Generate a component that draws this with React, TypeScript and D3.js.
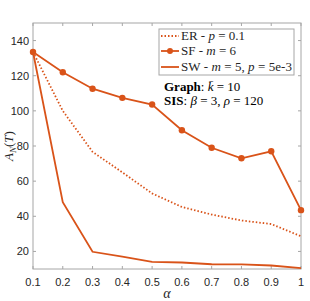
import React from 'react';
import * as d3 from 'd3';

const alphas = [0.1, 0.2, 0.3, 0.4, 0.5, 0.6, 0.7, 0.8, 0.9, 1.0];
const erValues = [133.5, 100, 76.7, 65, 53, 45.3, 41, 37.6, 35.6, 28.6];
const sfValues = [133.5, 122, 112.6, 107.4, 103.6, 89, 79, 73, 77, 43.5];
const swValues = [133.5, 48, 19.8, 17, 14, 13.7, 12.7, 12.6, 12, 10.5];
const xTicks = [0.1, 0.2, 0.3, 0.4, 0.5, 0.6, 0.7, 0.8, 0.9, 1];
const yTicks = [20, 40, 60, 80, 100, 120, 140];

const ORANGE = '#D95319';
const AXIS = '#a6a6a6';
const TEXT = '#262626';
const SERIF = '"Liberation Serif", "DejaVu Serif", serif';
const SANS = '"Liberation Sans", Arial, sans-serif';

const W = 310;
const H = 301;
const M = { left: 33, right: 9, top: 23, bottom: 32 };

export default function App() {
  const x = d3.scaleLinear().domain([0.1, 1]).range([M.left, W - M.right]);
  const y = d3.scaleLinear().domain([10, 150]).range([H - M.bottom, M.top]);
  const line = d3
    .line<number>()
    .x((_, i) => x(alphas[i]))
    .y((d) => y(d));
  const x0 = M.left;
  const x1 = W - M.right;
  const y0 = H - M.bottom;
  const y1 = M.top;
  const tk = 3;

  return (
    <svg width={W} height={H} style={{ position: 'absolute', left: 0, top: 0, background: '#fff' }}>
      {/* box */}
      <rect x={x0} y={y1} width={x1 - x0} height={y0 - y1} fill="none" stroke={AXIS} strokeWidth={1} />
      {xTicks.map((t) => (
        <g key={'x' + t}>
          <line x1={x(t)} x2={x(t)} y1={y0} y2={y0 - tk} stroke={AXIS} />
          <line x1={x(t)} x2={x(t)} y1={y1} y2={y1 + tk} stroke={AXIS} />
          <text x={x(t)} y={y0 + 17} textAnchor="middle" fontFamily={SANS} fontSize={11} fill={TEXT}>
            {String(t)}
          </text>
        </g>
      ))}
      {yTicks.map((t) => (
        <g key={'y' + t}>
          <line x1={x0} x2={x0 + tk} y1={y(t)} y2={y(t)} stroke={AXIS} />
          <line x1={x1} x2={x1 - tk} y1={y(t)} y2={y(t)} stroke={AXIS} />
          <text x={x0 - 4} y={y(t) + 4} textAnchor="end" fontFamily={SANS} fontSize={11} fill={TEXT}>
            {t}
          </text>
        </g>
      ))}

      {/* series */}
      <path d={line(erValues) ?? ''} fill="none" stroke={ORANGE} strokeWidth={1.8} strokeDasharray="1.5 2" />
      <path d={line(swValues) ?? ''} fill="none" stroke={ORANGE} strokeWidth={1.8} />
      <path d={line(sfValues) ?? ''} fill="none" stroke={ORANGE} strokeWidth={1.8} />
      {sfValues.map((v, i) => (
        <circle key={i} cx={x(alphas[i])} cy={y(v)} r={3.2} fill={ORANGE} />
      ))}

      {/* legend */}
      <rect x={159} y={29} width={135} height={46} fill="#fff" stroke={AXIS} />
      <g fontFamily={SERIF} fontSize={13} fill={TEXT}>
        <line x1={161} x2={179} y1={36} y2={36} stroke={ORANGE} strokeWidth={1.8} strokeDasharray="1.5 2" />
        <text x={181} y={40}>
          ER - <tspan fontStyle="italic">p</tspan> = 0.1
        </text>
        <line x1={161} x2={179} y1={51} y2={51} stroke={ORANGE} strokeWidth={1.8} />
        <circle cx={170} cy={51} r={3} fill={ORANGE} />
        <text x={181} y={55}>
          SF - <tspan fontStyle="italic">m</tspan> = 6
        </text>
        <line x1={161} x2={179} y1={67} y2={67} stroke={ORANGE} strokeWidth={1.8} />
        <text x={181} y={71} textLength={111}>
          SW - <tspan fontStyle="italic">m</tspan> = 5, <tspan fontStyle="italic">p</tspan> = 5e-3
        </text>
      </g>

      {/* annotation */}
      <g fontFamily={SERIF} fontSize={13} fill="#000">
        <text x={164} y={91}>
          <tspan fontWeight="bold">Graph</tspan>: <tspan fontStyle="italic">k̄</tspan> = 10
        </text>
        <text x={164} y={105}>
          <tspan fontWeight="bold">SIS</tspan>: <tspan fontStyle="italic">β</tspan> = 3, <tspan fontStyle="italic">ρ</tspan> = 120
        </text>
      </g>

      {/* axis labels */}
      <text x={167} y={298} textAnchor="middle" fontFamily={SERIF} fontStyle="italic" fontSize={14} fill={TEXT}>
        α
      </text>
      <text
        transform={`translate(13, ${(y0 + y1) / 2}) rotate(-90)`}
        textAnchor="middle"
        fontFamily={SERIF}
        fontSize={13}
        fill={TEXT}
      >
        <tspan fontStyle="italic">A</tspan>
        <tspan fontStyle="italic" fontSize={9} dy={3}>N</tspan>
        <tspan dy={-3}>(</tspan>
        <tspan fontStyle="italic">T</tspan>
        <tspan>)</tspan>
      </text>
    </svg>
  );
}
